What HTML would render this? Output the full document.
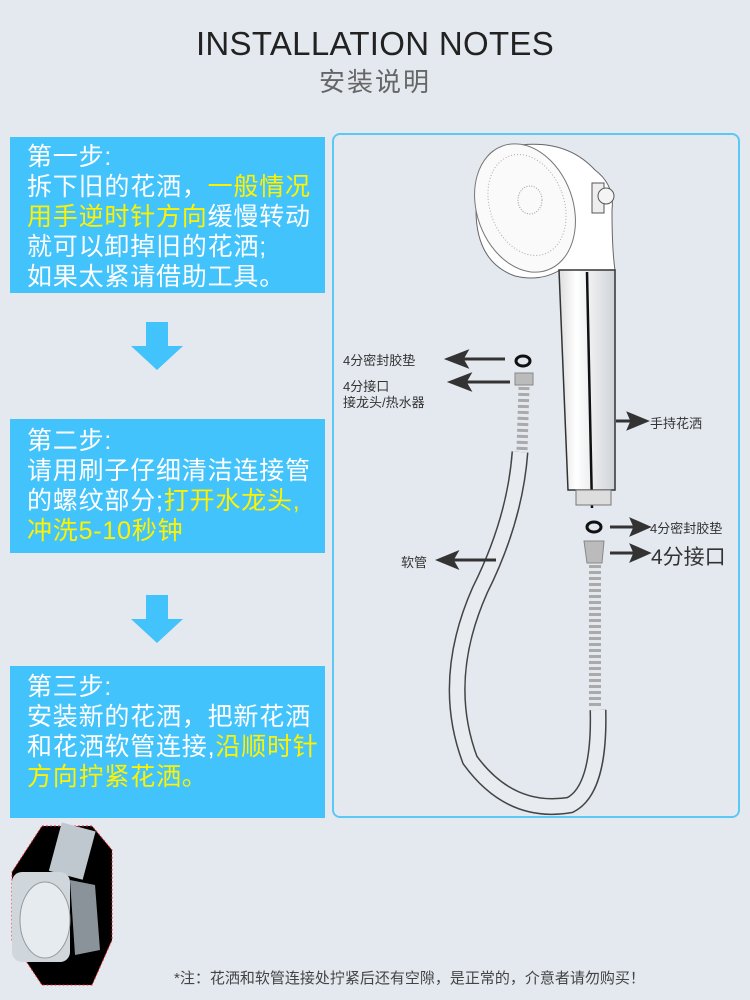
<!DOCTYPE html>
<html><head><meta charset="utf-8"><style>
body{margin:0;width:750px;height:1000px;background:#e4e9f0;position:relative;overflow:hidden;font-family:"Liberation Sans","Noto Sans CJK SC",sans-serif}
.t{position:absolute;left:0;width:750px;text-align:center}
.box{position:absolute;left:10px;width:315px;background:#42c3fc;color:#fff;font-size:25px;line-height:30px;padding:5px 0 0 17px;box-sizing:border-box;letter-spacing:0.8px;white-space:nowrap}
.y{color:#fff200}
.arr{position:absolute;left:131px;width:52px;height:48px}
.lbl{position:absolute;font-size:13px;color:#333;white-space:nowrap}
</style></head><body>
<div class="t" style="top:25px;font-size:33px;color:#222;letter-spacing:0.3px">INSTALLATION NOTES</div>
<div class="t" style="top:62px;font-size:26px;color:#666;letter-spacing:2px">安装说明</div>

<div class="box" style="top:137px;height:156px">第一步:<br>拆下旧的花洒，<span class="y">一般情况</span><br><span class="y">用手逆时针方向</span>缓慢转动<br>就可以卸掉旧的花洒;<br>如果太紧请借助工具。</div>
<svg class="arr" style="top:322px" viewBox="0 0 52 48"><polygon points="15,0 37,0 37,24 52,24 26,48 0,24 15,24" fill="#42c3fc"/></svg>
<div class="box" style="top:419px;height:134px;padding-top:7px">第二步:<br>请用刷子仔细清洁连接管<br>的螺纹部分;<span class="y">打开水龙头,</span><br><span class="y">冲洗5-10秒钟</span></div>
<svg class="arr" style="top:595px" viewBox="0 0 52 48"><polygon points="15,0 37,0 37,24 52,24 26,48 0,24 15,24" fill="#42c3fc"/></svg>
<div class="box" style="top:666px;height:152px;padding-top:6px">第三步:<br>安装新的花洒，把新花洒<br>和花洒软管连接,<span class="y">沿顺时针</span><br><span class="y">方向拧紧花洒。</span></div>

<div style="position:absolute;left:332px;top:133px;width:408px;height:685px;border:2px solid #5bc8f5;border-radius:8px;box-sizing:border-box"></div>

<svg style="position:absolute;left:0;top:0" width="750" height="1000">
<defs><linearGradient id="h" x1="0" x2="1"><stop offset="0" stop-color="#ddd"/><stop offset=".3" stop-color="#fff"/><stop offset="1" stop-color="#cfd3d8"/></linearGradient></defs>
<!-- head -->
<path d="M495,150 Q560,132 595,170 Q615,185 612,210 Q612,250 615,270 L560,270 Q540,282 515,276 Q476,262 476,210 Q476,160 495,150Z" fill="#fff" stroke="#666" stroke-width="1"/>
<ellipse cx="525" cy="208" rx="48" ry="66" transform="rotate(-20 525 208)" fill="#fafafa" stroke="#777"/>
<ellipse cx="527" cy="205" rx="37" ry="52" transform="rotate(-20 527 205)" fill="none" stroke="#aaa" stroke-dasharray="1 2"/>
<ellipse cx="530" cy="200" rx="12" ry="14" fill="none" stroke="#999" stroke-dasharray="1 1.5"/>
<rect x="592" y="183" width="12" height="30" fill="#eee" stroke="#555"/>
<circle cx="606" cy="196" r="8" fill="#f4f4f4" stroke="#555"/>
<!-- handle -->
<path d="M559,270 L615,270 L615,490 L568,490 Z" fill="url(#h)" stroke="#333" stroke-width="1.5"/>
<line x1="587" y1="272" x2="592" y2="508" stroke="#111" stroke-width="2.5"/>
<rect x="576" y="490" width="35" height="15" fill="#ddd" stroke="#777"/>
<!-- right gasket / connector -->
<ellipse cx="594" cy="527" rx="7" ry="5" fill="none" stroke="#111" stroke-width="3"/>
<polygon points="584,541 604,541 602,563 587,563" fill="#bbb" stroke="#888"/>
<line x1="595" y1="565" x2="595" y2="708" stroke="#aaa" stroke-width="12" stroke-dasharray="3 3"/>
<!-- left gasket / connector -->
<ellipse cx="523" cy="361" rx="7" ry="5" fill="none" stroke="#111" stroke-width="3"/>
<rect x="515" y="373" width="18" height="12" fill="#bbb" stroke="#888"/>
<line x1="524" y1="387" x2="522" y2="450" stroke="#aaa" stroke-width="11" stroke-dasharray="3 3"/>
<!-- hose -->
<path d="M520,452 Q515,520 480,590 Q440,680 470,760 Q510,815 570,805 Q600,790 598,710" fill="none" stroke="#444" stroke-width="17"/>
<path d="M520,452 Q515,520 480,590 Q440,680 470,760 Q510,815 570,805 Q600,790 598,710" fill="none" stroke="#e8ecf1" stroke-width="14"/>
<!-- arrows -->
<g stroke="#333" stroke-width="3" fill="#333">
<line x1="505" y1="359" x2="460" y2="359"/><polygon points="448,359 466,352 462,359 466,366" />
<line x1="510" y1="382" x2="462" y2="382"/><polygon points="451,382 469,375 465,382 469,389"/>
<line x1="616" y1="421" x2="632" y2="421"/><polygon points="646,421 629,414 632,421 629,428"/>
<line x1="496" y1="560" x2="450" y2="560"/><polygon points="439,560 456,553 452,560 456,567"/>
<line x1="610" y1="527" x2="635" y2="527"/><polygon points="648,527 632,520 635,527 632,534"/>
<line x1="610" y1="553" x2="635" y2="553"/><polygon points="648,553 632,546 635,553 632,560"/>
</g>
<!-- bottom image -->
<polygon points="42,826 92,826 112,850 112,940 92,985 42,985 12,940 12,872" fill="#000" stroke="#e22" stroke-dasharray="2 2"/>
<rect x="55" y="826" width="35" height="50" fill="#bfc8cf" transform="rotate(15 72 850)"/>
<rect x="12" y="872" width="58" height="90" rx="10" fill="#cfd6dc"/>
<ellipse cx="45" cy="920" rx="25" ry="38" fill="#e6ebef" stroke="#999"/>
<path d="M70,880 L95,885 L100,950 L75,955Z" fill="#8a9399"/>
</svg>

<div class="lbl" style="left:343px;top:350px">4分密封胶垫</div>
<div class="lbl" style="left:343px;top:379px;line-height:16px">4分接口<br>接龙头/热水器</div>
<div class="lbl" style="left:650px;top:413px">手持花洒</div>
<div class="lbl" style="left:401px;top:552px">软管</div>
<div class="lbl" style="left:650px;top:518px">4分密封胶垫</div>
<div class="lbl" style="left:651px;top:541px;font-size:21px">4分接口</div>
<div class="lbl" style="left:174px;top:967px;font-size:15px;color:#444">*注：花洒和软管连接处拧紧后还有空隙，是正常的，介意者请勿购买！</div>
</body></html>
